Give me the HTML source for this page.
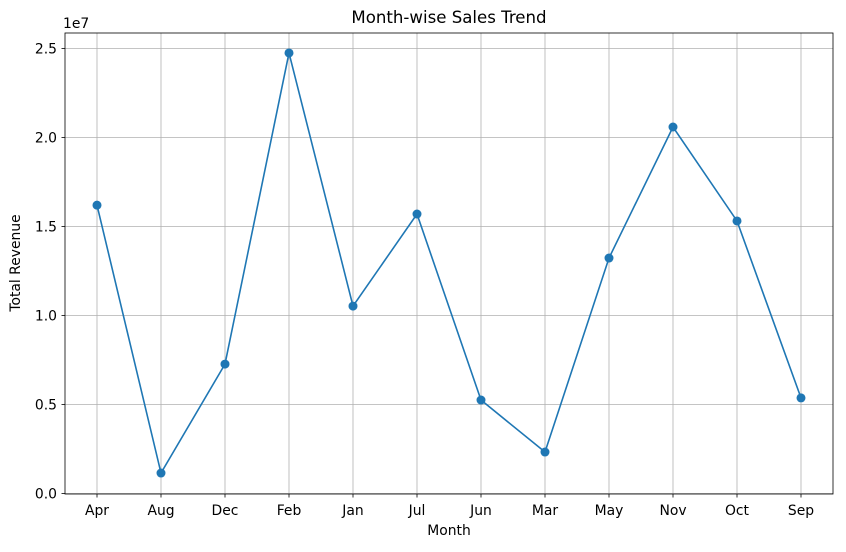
<!DOCTYPE html>
<html><head><meta charset="utf-8"><style>
body{margin:0;background:#fff;}
svg text{font-family:"DejaVu Sans","Liberation Sans",sans-serif;fill:#000;}
</style></head><body>
<svg id="chart" width="846" height="547" xmlns="http://www.w3.org/2000/svg">
<rect width="846" height="547" fill="#fff"/>
<text x="449" y="23" font-size="16.6" text-anchor="middle">Month-wise Sales Trend</text>
<text x="449" y="535" font-size="13.9" text-anchor="middle">Month</text>
<text x="20" y="263" font-size="13.9" text-anchor="middle" transform="rotate(-90 20 263)">Total Revenue</text>
<text x="63" y="28" font-size="13.9">1e7</text>
<g id="grid"></g><g id="ticks"></g><g id="series"></g>
<rect x="65" y="33" width="768" height="461" fill="none" stroke="#000" stroke-width="0.8"/>
</svg>
<script>
const categories=["Apr","Aug","Dec","Feb","Jan","Jul","Jun","Mar","May","Nov","Oct","Sep"];
const revenue=[16200000,1150000,7270000,24750000,10530000,15700000,5250000,2330000,13230000,20590000,15310000,5370000];
const yTicks=[0,5000000,10000000,15000000,20000000,25000000];
const yTickLabels=["0.0","0.5","1.0","1.5","2.0","2.5"];
const NS="http://www.w3.org/2000/svg";
const x=i=>97+i*64;
const y=v=>493.5-v/10000000*178;
function mk(t,a,p){const e=document.createElementNS(NS,t);for(const k in a)e.setAttribute(k,a[k]);p.appendChild(e);return e;}
const grid=document.getElementById('grid'),ticks=document.getElementById('ticks'),series=document.getElementById('series');
categories.forEach((c,i)=>{
 const g=mk('line',{x1:x(i),x2:x(i),y1:33,y2:494,stroke:'#b0b0b0','stroke-width':0.8},grid);
 
 
 const tk=mk('line',{x1:x(i),x2:x(i),y1:494,y2:497.5,stroke:'#000','stroke-width':0.8},ticks);
 
 
 const t=mk('text',{x:x(i),y:515,'font-size':13.9,'text-anchor':'middle'},ticks);t.textContent=c;
 
 
});
yTicks.forEach((v,i)=>{
 const g=mk('line',{x1:65,x2:833,y1:y(v),y2:y(v),stroke:'#b0b0b0','stroke-width':0.8},grid);
 
 
 const tk=mk('line',{x1:61.5,x2:65,y1:y(v),y2:y(v),stroke:'#000','stroke-width':0.8},ticks);
 
 
 const t=mk('text',{x:57,y:y(v)+5,'font-size':13.9,'text-anchor':'end'},ticks);t.textContent=yTickLabels[i];
 
 
});
const pl=mk('polyline',{points:revenue.map((v,i)=>x(i)+','+y(v)).join(' '),fill:'none',stroke:'#1f77b4','stroke-width':1.6},series);


revenue.forEach((v,i)=>{
 const c=mk('circle',{cx:x(i),cy:y(v),r:4.5,fill:'#1f77b4'},series);
 
 
});
</script>
</body></html>
